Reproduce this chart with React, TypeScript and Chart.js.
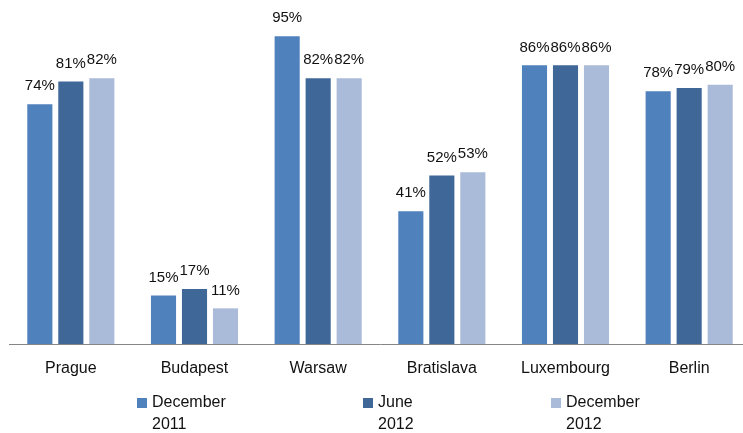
import React, { useEffect, useRef } from 'react';
import { Chart, registerables } from 'chart.js';

Chart.register(...registerables);

const categories = ['Prague', 'Budapest', 'Warsaw', 'Bratislava', 'Luxembourg', 'Berlin'];
const dec2011 = [74, 15, 95, 41, 86, 78];
const jun2012 = [81, 17, 82, 52, 86, 79];
const dec2012 = [82, 11, 82, 53, 86, 80];
const seriesLabels = [['December', '2011'], ['June', '2012'], ['December', '2012']];
const seriesColors = ['#4F81BD', '#3F6797', '#AABAD9'];

const FONT = '"Liberation Sans", Arial, sans-serif';

const dataLabelPlugin = {
  id: 'dataLabels',
  afterDatasetsDraw(chart: any) {
    const ctx = chart.ctx;
    ctx.save();
    ctx.font = `15px ${FONT}`;
    ctx.fillStyle = '#111';
    ctx.textAlign = 'center';
    ctx.textBaseline = 'middle';
    chart.data.datasets.forEach((ds: any, i: number) => {
      chart.getDatasetMeta(i).data.forEach((el: any, j: number) => {
        ctx.fillText(`${ds.data[j]}%`, el.x, el.y - 18);
      });
    });
    ctx.restore();
  },
};

const customLegendPlugin = {
  id: 'customLegend',
  afterDraw(chart: any, _args: any, opts: any) {
    const ctx = chart.ctx;
    ctx.save();
    ctx.font = `16px ${FONT}`;
    ctx.textBaseline = 'middle';
    ctx.textAlign = 'left';
    chart.data.datasets.forEach((ds: any, i: number) => {
      const x = opts.xs[i];
      const y0 = opts.y;
      ctx.fillStyle = ds.backgroundColor;
      ctx.fillRect(x, y0 - 5, 10, 10);
      ctx.fillStyle = '#111';
      const lines: string[] = ds.label;
      lines.forEach((line: string, k: number) => {
        ctx.fillText(line, x + 15, y0 + k * opts.lineGap);
      });
    });
    ctx.restore();
  },
};

export default function App() {
  const canvasRef = useRef<HTMLCanvasElement | null>(null);

  useEffect(() => {
    if (!canvasRef.current) return;
    const chart = new Chart(canvasRef.current, {
      type: 'bar',
      data: {
        labels: categories,
        datasets: [
          { label: seriesLabels[0] as any, data: dec2011, backgroundColor: seriesColors[0] },
          { label: seriesLabels[1] as any, data: jun2012, backgroundColor: seriesColors[1] },
          { label: seriesLabels[2] as any, data: dec2012, backgroundColor: seriesColors[2] },
        ],
      },
      options: {
        responsive: false,
        animation: false,
        devicePixelRatio: 1,
        layout: { padding: { top: 20, left: 9, right: 0, bottom: 0 } },
        datasets: { bar: { categoryPercentage: 0.752, barPercentage: 0.81 } },
        plugins: {
          legend: { display: false },
          tooltip: { enabled: false },
          customLegend: { xs: [137, 363, 551], y: 403, lineGap: 22 },
        } as any,
        scales: {
          x: {
            grid: { display: false },
            border: { display: true, color: '#868686', width: 1 },
            ticks: { color: '#111', font: { family: FONT, size: 16 }, padding: 7 },
            afterFit: (scale: any) => {
              scale.height = 89;
            },
          },
          y: {
            display: false,
            min: 0,
            max: 100,
          },
        },
      },
      plugins: [dataLabelPlugin, customLegendPlugin],
    });
    return () => chart.destroy();
  }, []);

  return (
    <div style={{ position: 'absolute', left: 0, top: 0, width: 743, height: 433, overflow: 'hidden', background: '#fff' }}>
      <canvas ref={canvasRef} width={751} height={433} style={{ display: 'block' }} />
    </div>
  );
}
